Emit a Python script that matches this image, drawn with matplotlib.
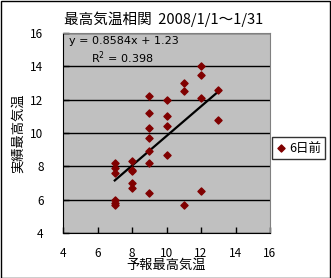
import matplotlib
matplotlib.use("Agg")
import matplotlib.pyplot as plt
import numpy as np
from matplotlib.patches import Rectangle

plt.rcParams['font.family'] = ['Noto Sans CJK JP', 'DejaVu Sans']

# forecast max temp (x) vs observed max temp (y), 2008/1/1 - 1/31
forecast = [7, 7, 7, 7, 7, 7,
            8, 8, 8, 8, 8,
            9, 9, 9, 9, 9, 9, 9,
            10, 10, 10, 10,
            11, 11, 11,
            12, 12, 12, 12,
            13, 13]
observed = [8.2, 7.9, 7.6, 6.0, 5.8, 5.7,
            8.3, 7.8, 7.7, 7.0, 6.7,
            12.2, 11.2, 10.3, 9.7, 8.9, 8.2, 6.4,
            12.0, 11.0, 10.4, 8.7,
            13.0, 12.5, 5.7,
            14.0, 13.5, 12.1, 6.5,
            12.6, 10.8]
xticks = [4, 6, 8, 10, 12, 14, 16]
yticks = [4, 6, 8, 10, 12, 14, 16]

W, H = 331, 278
fig = plt.figure(figsize=(W / 100, H / 100), dpi=100)
fig.patch.set_facecolor('white')
fig.patches.append(Rectangle((0.5 / W, 0.5 / H), 1 - 1.5 / W, 1 - 1.5 / H,
                             transform=fig.transFigure, fill=False,
                             edgecolor='black', linewidth=1))

ax = fig.add_axes([63 / W, 45 / H, 207 / W, 200 / H])
ax.set_facecolor('#C0C0C0')

x = np.array(forecast, dtype=float)
y = np.array(observed)
ax.scatter(x, y, marker='D', s=13, color='#800000', zorder=3, label='6日前')

# linear trend line
k, b = np.polyfit(x, y, 1)
xl = np.array([x.min(), x.max()])
ax.plot(xl, k * xl + b, color='black', linewidth=1.6, zorder=2)

ax.set_xlim(4, 16)
ax.set_ylim(4, 16)
ax.set_xticks(xticks)
ax.set_yticks(yticks)
ax.yaxis.grid(True, color='black', linewidth=1)
ax.set_axisbelow(True)
ax.tick_params(direction='in', length=4, width=1, labelsize=8.5, pad=14)
ax.tick_params(axis='x', pad=10)

for s in ['left', 'bottom']:
    ax.spines[s].set_color('black')
for s in ['top', 'right']:
    ax.spines[s].set_color('#808080')

ax.text(0.03, 0.96, 'y = 0.8584x + 1.23', transform=ax.transAxes,
        fontsize=8, va='center', ha='left', family='DejaVu Sans')
ax.text(0.135, 0.875, 'R$^2$ = 0.398', transform=ax.transAxes,
        fontsize=8, va='center', ha='left', family='DejaVu Sans')

fig.text(164 / W, 1 - 19 / H, '最高気温相関  2008/1/1～1/31', ha='center',
         va='center', fontsize=10.5)
ax.set_xlabel('予報最高気温', fontsize=9.5, labelpad=-1)
ax.set_ylabel('実績最高気温', fontsize=9.5, labelpad=4)

leg = fig.legend(loc='center left', bbox_to_anchor=(272 / W, 1 - 148 / H),
                 borderaxespad=0, fontsize=9, frameon=True, fancybox=False,
                 edgecolor='black', handlelength=0.8, handletextpad=0.2,
                 borderpad=0.35, markerscale=1.0)
leg.get_frame().set_linewidth(1)

fig.savefig('out.png', dpi=100)
